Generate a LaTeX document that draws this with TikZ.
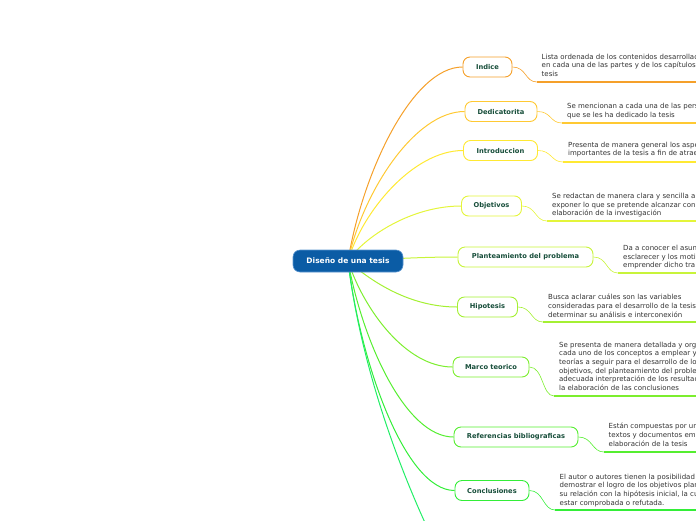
\documentclass[tikz,border=0pt]{standalone}
\usepackage{fontspec}
\setmainfont{DejaVu Sans}
\definecolor{cA}{HTML}{F5A02A}
\definecolor{cB}{HTML}{FFC933}
\definecolor{cC}{HTML}{FFE933}
\definecolor{cD}{HTML}{E4F53A}
\definecolor{cE}{HTML}{C8F43A}
\definecolor{cF}{HTML}{A4F032}
\definecolor{cG}{HTML}{7CEE2E}
\definecolor{cH}{HTML}{55EE30}
\definecolor{cI}{HTML}{33EE38}
\definecolor{cJ}{HTML}{22EE66}
\definecolor{nodetext}{HTML}{174E3A}
\definecolor{desctext}{HTML}{333333}
\definecolor{hubfill}{HTML}{0B5CA5}
\definecolor{hubdraw}{HTML}{5A95D0}
\begin{document}
\begin{tikzpicture}[x=1pt,y=-1pt,
  topic/.style={draw=#1, line width=0.9pt, fill=white, rounded corners=7pt, minimum height=20pt, inner sep=0pt, font=\fontsize{6.7}{7}\selectfont\bfseries, text=nodetext},
  desc/.style={anchor=north west, inner sep=0pt, align=left, font=\fontsize{7}{8.7}\selectfont, text=desctext},
  branch/.style={draw=#1, line width=1pt},
  uline/.style={draw=#1, line width=1.4pt},
  link/.style={draw=#1, line width=0.6pt},
  hubnode/.style={fill=hubfill, draw=hubdraw, line width=0.6pt, rounded corners=7pt, minimum width=110pt, minimum height=22pt, inner sep=0pt, text=white, font=\fontsize{7.5}{8}\selectfont\bfseries}
]
\useasboundingbox (0,0) rectangle (696,520);
\clip (0,0) rectangle (696,520);

\coordinate (hub) at (348,261);

% topics
\node[topic=cA, minimum width=49pt] (t1) at (487.5,67) {Indice};
\node[topic=cB, minimum width=72pt] (t2) at (501,111.5) {Dedicatorita};
\node[topic=cC, minimum width=74pt] (t3) at (500.5,150.5) {Introduccion};
\node[topic=cD, minimum width=60pt] (t4) at (491.5,206) {Objetivos};
\node[topic=cE, minimum width=135pt] (t5) at (525.5,257) {Planteamiento del problema};
\node[topic=cF, minimum width=60pt] (t6) at (487.5,307) {Hipotesis};
\node[topic=cG, minimum width=76pt] (t7) at (491,367) {Marco teorico};
\node[topic=cH, minimum width=124pt] (t8) at (516,437) {Referencias bibliograficas};
\node[topic=cI, minimum width=74pt] (t9) at (492,490.5) {Conclusiones};
\coordinate (off) at (433,540);

% descriptions (as far as the picture shows them)
\node[desc] (d1) at (541.5,53.5) {Lista ordenada de los contenidos desarrollad\\en cada una de las partes y de los capítulos\\tesis};
\node[desc] (d2) at (567,103) {Se mencionan a cada una de las pers\\que se les ha dedicado la tesis};
\node[desc] (d3) at (568,141.5) {Presenta de manera general los aspe\\importantes de la tesis a fin de atrae};
\node[desc] (d4) at (552,193) {Se redactan de manera clara y sencilla a\\exponer lo que se pretende alcanzar con\\elaboración de la investigación};
\node[desc] (d5) at (623,245) {Da a conocer el asun\\esclarecer y los moti\\emprender dicho tra};
\node[desc] (d6) at (548,294) {Busca aclarar cuáles son las variables\\consideradas para el desarrollo de la tesis\\determinar su análisis e interconexión};
\node[desc] (d7) at (559,341.5) {Se presenta de manera detallada y org\\cada uno de los conceptos a emplear y\\teorías a seguir para el desarrollo de lo\\objetivos, del planteamiento del proble\\adecuada interpretación de los resultad\\la elaboración de las conclusiones};
\node[desc] (d8) at (608.5,423) {Están compuestas por un\\textos y documentos em\\elaboración de la tesis};
\node[desc] (d9) at (559.5,473.5) {El autor o autores tienen la posibilidad\\demostrar el logro de los objetivos plan\\su relación con la hipótesis inicial, la cu\\estar comprobada o refutada.};

% underline anchors
\coordinate (u1) at (537,82);   \coordinate (e1) at (700,82);
\coordinate (u2) at (562,123);  \coordinate (e2) at (700,123);
\coordinate (u3) at (563,162);  \coordinate (e3) at (700,162);
\coordinate (u4) at (547,221);  \coordinate (e4) at (700,221);
\coordinate (u5) at (618,273);  \coordinate (e5) at (700,273);
\coordinate (u6) at (543,322);  \coordinate (e6) at (700,322);
\coordinate (u7) at (554,396);  \coordinate (e7) at (700,396);
\coordinate (u8) at (604,452);  \coordinate (e8) at (700,452);
\coordinate (u9) at (555,510);  \coordinate (e9) at (700,510);

% links topic -> underline
\foreach \i/\c in {1/cA,2/cB,3/cC,4/cD,5/cE,6/cF,7/cG,8/cH,9/cI}{
  \draw[link=\c] (t\i.east) .. controls +(14,0) and +(-12,0) .. (u\i);
  \draw[uline=\c] (u\i) -- (e\i);
}

% branches
\draw[branch=cA] (hub) .. controls (362,174) and (412,67) .. (t1.west);
\draw[branch=cB] (hub) .. controls (362,194) and (414,111.5) .. (t2.west);
\draw[branch=cC] (hub) .. controls (362,212) and (413,150.5) .. (t3.west);
\draw[branch=cD] (hub) .. controls (365,236) and (412,206) .. (t4.west);
\draw[branch=cE] (hub) .. controls (390,259) and (420,257) .. (t5.west);
\draw[branch=cF] (hub) .. controls (372,282) and (410,307) .. (t6.west);
\draw[branch=cG] (hub) .. controls (364,310) and (406,367) .. (t7.west);
\draw[branch=cH] (hub) .. controls (362,340) and (405,437) .. (t8.west);
\draw[branch=cI] (hub) .. controls (360,362) and (405,490.5) .. (t9.west);
\draw[branch=cJ] (hub) .. controls (360,360) and (395,460) .. (off);

\node[hubnode] (center) at (hub) {Diseño de una tesis};
\end{tikzpicture}
\end{document}
